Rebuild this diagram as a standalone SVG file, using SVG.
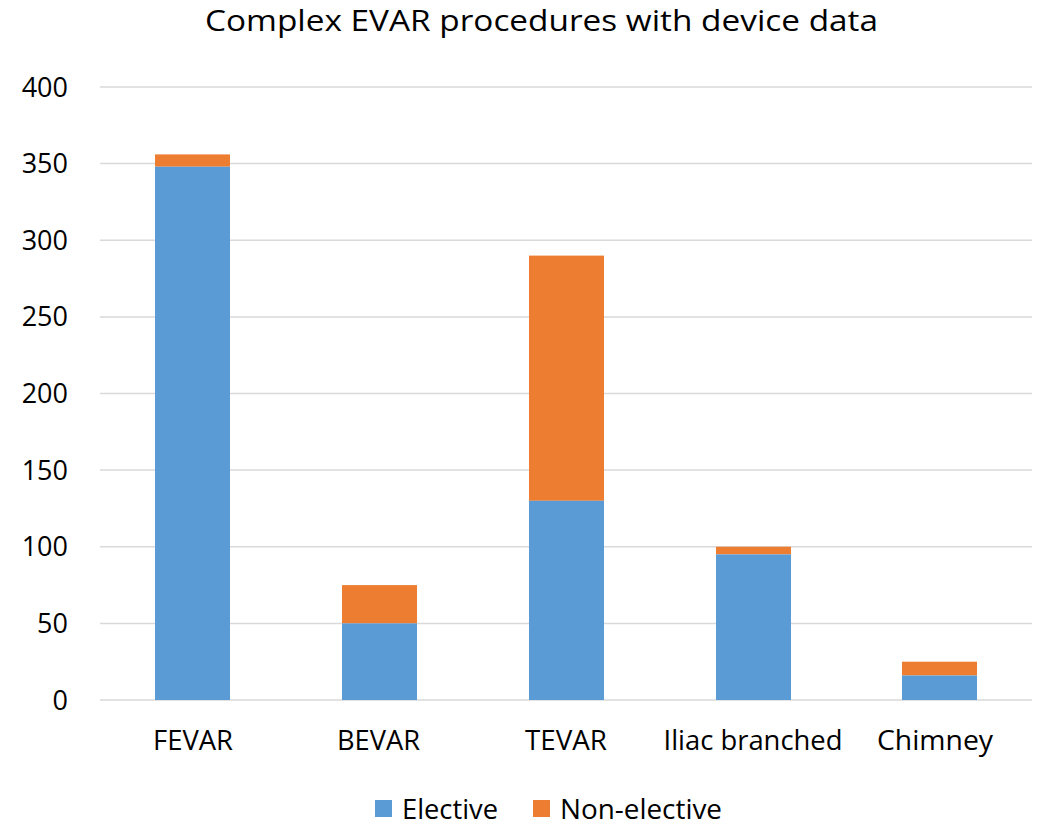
<svg xmlns="http://www.w3.org/2000/svg" width="1046" height="825" viewBox="0 0 1046 825">
<style>
text{font-family:"Open Sans","Liberation Sans",sans-serif;fill:#000}
.grid{stroke:#d9d9d9;stroke-width:1.5;fill:none}
.el{fill:#5b9bd5}
.ne{fill:#ed7d31}
.ax{font-size:27px;text-anchor:end}
.cat{font-size:27px;text-anchor:middle}
.leg{font-size:27px}
</style>
<rect width="1046" height="825" fill="#fff"/>
<text x="541.5" y="31" font-size="30" text-anchor="middle" textLength="673" lengthAdjust="spacingAndGlyphs">Complex EVAR procedures with device data</text>
<g id="gridlines">
<line class="grid" x1="100" y1="87" x2="1032" y2="87"/>
<line class="grid" x1="100" y1="163.6" x2="1032" y2="163.6"/>
<line class="grid" x1="100" y1="240.25" x2="1032" y2="240.25"/>
<line class="grid" x1="100" y1="316.9" x2="1032" y2="316.9"/>
<line class="grid" x1="100" y1="393.5" x2="1032" y2="393.5"/>
<line class="grid" x1="100" y1="470.1" x2="1032" y2="470.1"/>
<line class="grid" x1="100" y1="546.75" x2="1032" y2="546.75"/>
<line class="grid" x1="100" y1="623.4" x2="1032" y2="623.4"/>
<line class="grid" x1="100" y1="700" x2="1032" y2="700"/>
</g>
<g id="y-axis">
<text class="ax" x="68" y="96.5">400</text>
<text class="ax" x="68" y="173.1">350</text>
<text class="ax" x="68" y="249.75">300</text>
<text class="ax" x="68" y="326.4">250</text>
<text class="ax" x="68" y="403">200</text>
<text class="ax" x="68" y="479.6">150</text>
<text class="ax" x="68" y="556.25">100</text>
<text class="ax" x="68" y="632.9">50</text>
<text class="ax" x="68" y="709.5">0</text>
</g>
<g id="fevar">
<rect class="ne" x="155" y="154.4" width="75" height="12.3"/>
<rect class="el" x="155" y="166.7" width="75" height="533.3"/>
<text class="cat" x="193" y="750" textLength="80" lengthAdjust="spacingAndGlyphs">FEVAR</text>
</g>
<g id="bevar">
<rect class="ne" x="342" y="585.1" width="75" height="38.3"/>
<rect class="el" x="342" y="623.4" width="75" height="76.6"/>
<text class="cat" x="378.5" y="750" textLength="83" lengthAdjust="spacingAndGlyphs">BEVAR</text>
</g>
<g id="tevar">
<rect class="ne" x="529" y="255.6" width="75" height="245.2"/>
<rect class="el" x="529" y="500.8" width="75" height="199.2"/>
<text class="cat" x="566" y="750" textLength="82" lengthAdjust="spacingAndGlyphs">TEVAR</text>
</g>
<g id="iliac">
<rect class="ne" x="716" y="546.75" width="75" height="7.65"/>
<rect class="el" x="716" y="554.4" width="75" height="145.6"/>
<text class="cat" x="753" y="750" textLength="179" lengthAdjust="spacingAndGlyphs">Iliac branched</text>
</g>
<g id="chimney">
<rect class="ne" x="902" y="661.7" width="75" height="13.8"/>
<rect class="el" x="902" y="675.5" width="75" height="24.5"/>
<text class="cat" x="935" y="750" textLength="116" lengthAdjust="spacingAndGlyphs">Chimney</text>
</g>
<g id="legend">
<rect class="el" x="375" y="800" width="17" height="17"/>
<text class="leg" x="402" y="818.5" textLength="96" lengthAdjust="spacingAndGlyphs">Elective</text>
<rect class="ne" x="533" y="800" width="17" height="17"/>
<text class="leg" x="560" y="818.5" textLength="162" lengthAdjust="spacingAndGlyphs">Non-elective</text>
</g>
</svg>
